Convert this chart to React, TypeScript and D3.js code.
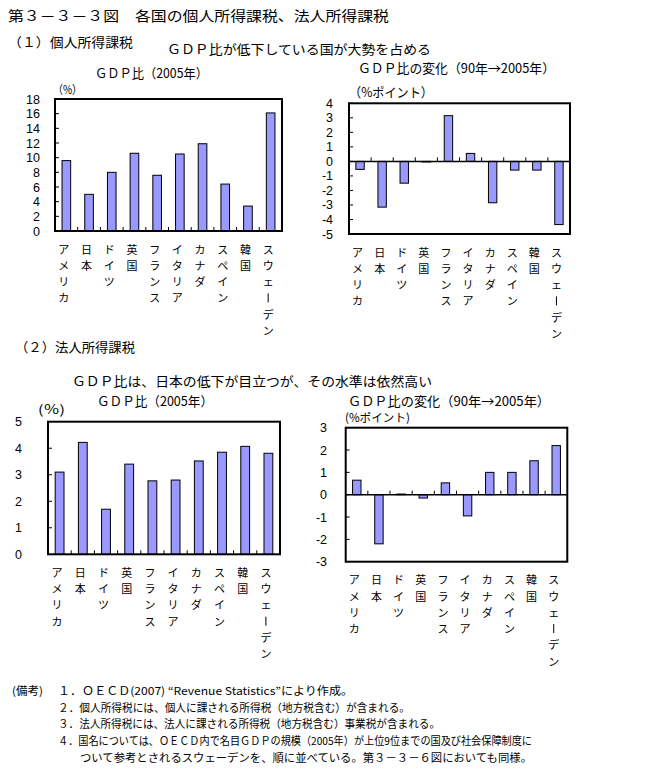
import React from 'react';
import * as d3 from 'd3';

const countries = ['アメリカ', '日本', 'ドイツ', '英国', 'フランス', 'イタリア', 'カナダ', 'スペイン', '韓国', 'スウェーデン'];
const personalGdp = [9.6, 5.0, 8.0, 10.6, 7.6, 10.5, 11.9, 6.4, 3.4, 16.1];
const personalChange = [-0.55, -3.15, -1.5, 0.0, 3.15, 0.55, -2.85, -0.6, -0.6, -4.35];
const corporateGdp = [3.1, 4.22, 1.7, 3.4, 2.77, 2.8, 3.52, 3.85, 4.07, 3.81];
const corporateChange = [0.65, -2.2, 0.03, -0.15, 0.53, -0.95, 1.0, 1.0, 1.52, 2.2];

const personalGdpTicks = [0, 2, 4, 6, 8, 10, 12, 14, 16, 18];
const personalChangeTicks = [-5, -4, -3, -2, -1, 0, 1, 2, 3, 4];
const corporateGdpTicks = [0, 1, 2, 3, 4, 5];
const corporateChangeTicks = [-3, -2, -1, 0, 1, 2, 3];

const footnotes = [
  '１．ＯＥＣＤ(2007) “Revenue Statistics”により作成。',
  '２．個人所得税には、個人に課される所得税（地方税含む）が含まれる。',
  '３．法人所得税には、法人に課される所得税（地方税含む）事業税が含まれる。',
  '４．国名については、ＯＥＣＤ内で名目ＧＤＰの規模（2005年）が上位9位までの国及び社会保障制度に',
  'ついて参考とされるスウェーデンを、順に並べている。第３－３－６図においても同様。',
];

const FONT = '"Noto Sans CJK JP", "Noto Sans", sans-serif';
const NUM_FONT = '"Liberation Sans", "DejaVu Sans", sans-serif';

function T({ x, y, text, size = 13, len, anchor = 'start' }: { x: number; y: number; text: string; size?: number; len?: number; anchor?: string }) {
  return (
    <text
      x={x}
      y={y}
      fontSize={size}
      fontFamily={FONT}
      fill="#000"
      textAnchor={anchor}
      {...(len ? { textLength: len, lengthAdjust: 'spacingAndGlyphs' } : {})}
    >
      {text}
    </text>
  );
}

type ChartProps = {
  x0: number; x1: number; y0: number; y1: number;
  ticks: number[]; values: number[]; labelRight: number;
};

function BarChart({ x0, x1, y0, y1, ticks, values, labelRight }: ChartProps) {
  const x = d3.scaleBand<string>().domain(countries).range([x0, x1]).paddingInner(0.62).paddingOuter(0.31);
  const domain: [number, number] = [ticks[0], ticks[ticks.length - 1]];
  const y = d3.scaleLinear().domain(domain).range([y1, y0]);
  const zero = y(Math.max(0, domain[0]));
  const step = x.step();
  const bw = x.bandwidth();
  const labelTop = y1 + 12.5;
  return (
    <g>
      {values.map((v, i) => {
        const c = countries[i];
        const yv = y(v);
        return (
          <rect key={c} x={x(c)} y={Math.min(yv, zero)} width={bw} height={Math.max(0.6, Math.abs(yv - zero))}
            fill="#9999ff" stroke="#000" strokeWidth={1} />
        );
      })}
      {domain[0] < 0 && <line x1={x0} x2={x1} y1={zero} y2={zero} stroke="#000" strokeWidth={1.5} />}
      {countries.slice(1).map((c, i) => (
        <line key={'xt' + c} x1={x0 + step * (i + 1)} x2={x0 + step * (i + 1)} y1={zero} y2={zero - 4} stroke="#000" strokeWidth={1} />
      ))}
      {ticks.map((t) => (
        <g key={'yt' + t}>
          <line x1={x0} x2={x0 + 4} y1={y(t)} y2={y(t)} stroke="#000" strokeWidth={1} />
          <text x={labelRight} y={y(t) + 4.5} fontSize={12.5} fontFamily={NUM_FONT} textAnchor="end" fill="#000">{String(t)}</text>
        </g>
      ))}
      <rect x={x0} y={y0} width={x1 - x0} height={y1 - y0} fill="none" stroke="#000" strokeWidth={2} />
      {countries.map((c) => {
        const cx = (x(c) as number) + bw / 2 - 2.5;
        return (
          <g key={'lab' + c}>
            {Array.from(c).map((ch, k) => {
              const by = labelTop + 10 + k * 16.3;
              if (ch === 'ー') {
                return (
                  <line key={k} x1={cx} x2={cx} y1={by - 9} y2={by} stroke="#000" strokeWidth={1} />
                );
              }
              return (
                <text key={k} x={cx} y={by} fontSize={11} fontFamily={FONT} textAnchor="middle" fill="#000">{ch}</text>
              );
            })}
          </g>
        );
      })}
    </g>
  );
}

export default function App() {
  return (
    <svg width={659} height={783} style={{ position: 'absolute', left: 0, top: 0, background: '#fff' }}>
      <rect x={0} y={0} width={659} height={783} fill="#fff" />
      <T x={8} y={21} text="第３－３－３図　各国の個人所得課税、法人所得課税" size={14} len={381} />
      <T x={8} y={47} text="（１）個人所得課税" size={13} len={125} />
      <T x={167} y={54} text="ＧＤＰ比が低下している国が大勢を占める" size={13} len={264} />
      <T x={95} y={78} text="ＧＤＰ比（2005年）" size={13} len={113} />
      <T x={358} y={73} text="ＧＤＰ比の変化（90年→2005年）" size={13} len={197} />
      <T x={53} y={94} text="（%）" size={11.5} len={29} />
      <T x={349} y={97} text="（%ポイント）" size={13} len={84} />

      <BarChart x0={55} x1={282} y0={99} y1={231} ticks={personalGdpTicks} values={personalGdp} labelRight={40} />
      <BarChart x0={349} x1={570} y0={103.3} y1={234} ticks={personalChangeTicks} values={personalChange} labelRight={333} />

      <T x={15} y={352} text="（２）法人所得課税" size={13} len={120} />
      <T x={72} y={386} text="ＧＤＰ比は、日本の低下が目立つが、その水準は依然高い" size={13} len={360} />
      <T x={97} y={406} text="ＧＤＰ比（2005年）" size={13} len={116} />
      <T x={38} y={414} text="(％)" size={12.5} len={27} />
      <T x={348} y={405.5} text="ＧＤＰ比の変化（90年→2005年）" size={13} len={202} />
      <T x={345} y={422} text="(%ポイント)" size={11.5} len={65} />

      <BarChart x0={48} x1={280} y0={421.7} y1={554.3} ticks={corporateGdpTicks} values={corporateGdp} labelRight={22} />
      <BarChart x0={345.7} x1={567.3} y0={427.7} y1={561.7} ticks={corporateChangeTicks} values={corporateChange} labelRight={327} />

      <T x={12} y={695} text="(備考)" size={11} len={31} />
      <T x={58} y={695} text={footnotes[0]} size={11} len={295} />
      <T x={58} y={712} text={footnotes[1]} size={11} len={352} />
      <T x={58} y={728} text={footnotes[2]} size={11} len={382} />
      <T x={58} y={745} text={footnotes[3]} size={11} len={474} />
      <T x={80} y={762} text={footnotes[4]} size={11} len={452} />
    </svg>
  );
}
